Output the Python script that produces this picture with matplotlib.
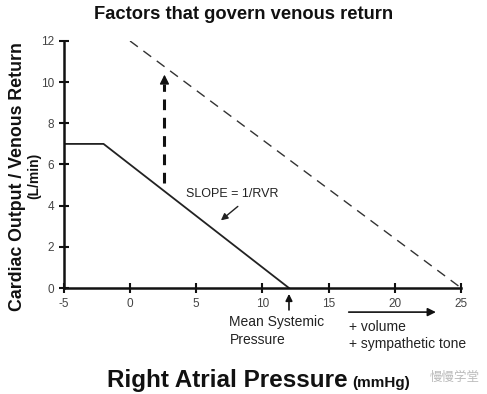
import matplotlib.pyplot as plt

plt.rcParams['font.family'] = ['Liberation Sans', 'Noto Sans CJK SC', 'DejaVu Sans']
plt.rcParams['axes.unicode_minus'] = False

# venous return curves (RAP in mmHg, flow in L/min)
vr_x = [-5, -2, 12]
vr_y = [7, 7, 0]
shift_x = [0, 25]
shift_y = [12, 0]

xticks = [-5, 0, 5, 10, 15, 20, 25]
yticks = [0, 2, 4, 6, 8, 10, 12]

fig = plt.figure(figsize=(4.87, 3.94), dpi=100)
ax = fig.add_axes([0.131, 0.269, 0.816, 0.627])

ax.plot(vr_x, vr_y, color='#222222', lw=1.3)
ax.plot(shift_x, shift_y, color='#333333', lw=1.0, ls=(0, (7, 5)))

# thick dashed arrow showing the upward shift
ax.plot([2.6, 2.6], [5.1, 9.9], color='#111111', lw=2.2, ls=(0, (3.5, 2.5)))
ax.annotate('', xy=(2.6, 10.5), xytext=(2.6, 9.8),
            arrowprops=dict(arrowstyle='-|>', color='#111111', lw=1, mutation_scale=14))

ax.text(4.2, 4.55, 'SLOPE = 1/RVR', fontsize=9, color='#222222', va='center')
ax.annotate('', xy=(6.7, 3.2), xytext=(8.3, 4.05),
            arrowprops=dict(arrowstyle='-|>', color='#222222', lw=1, mutation_scale=10))

# mean systemic pressure marker below the axis
ax.annotate('', xy=(12, -0.15), xytext=(12, -1.2), annotation_clip=False,
            arrowprops=dict(arrowstyle='-|>', color='#111111', lw=1.2, mutation_scale=10))
ax.text(7.5, -1.3, 'Mean Systemic\nPressure', fontsize=10, color='#222222',
        va='top', ha='left', linespacing=1.35, clip_on=False)

ax.annotate('', xy=(23.3, -1.17), xytext=(16.3, -1.17), annotation_clip=False,
            arrowprops=dict(arrowstyle='-|>', color='#111111', lw=1.2, mutation_scale=12))
ax.text(16.5, -1.55, '+ volume\n+ sympathetic tone', fontsize=10, color='#222222',
        va='top', ha='left', linespacing=1.3, clip_on=False)

ax.set_xlim(-5, 25)
ax.set_ylim(0, 12)
ax.set_xticks(xticks)
ax.set_yticks(yticks)
ax.tick_params(direction='inout', length=7, width=1.5, labelsize=8.5, colors='#111111',
               labelcolor='#444444')
ax.tick_params(axis='x', pad=4)
for s in ['top', 'right']:
    ax.spines[s].set_visible(False)
for s in ['left', 'bottom']:
    ax.spines[s].set_linewidth(1.8)
    ax.spines[s].set_color('#111111')

fig.text(0.5, 0.964, 'Factors that govern venous return', ha='center', va='center',
         fontsize=13.2, fontweight='bold', color='#111111')

# axis labels with smaller units
fig.text(0.036, 0.553, 'Cardiac Output / Venous Return', rotation=90, ha='center', va='center',
         fontsize=12.8, fontweight='bold', color='#111111')
fig.text(0.071, 0.553, '(L/min)', rotation=90, ha='center', va='center',
         fontsize=10, fontweight='bold', color='#111111')
fig.text(0.22, 0.018, 'Right Atrial Pressure', ha='left', va='baseline',
         fontsize=17.5, fontweight='bold', color='#111111')
fig.text(0.723, 0.018, '(mmHg)', ha='left', va='baseline',
         fontsize=11, fontweight='bold', color='#111111')
fig.text(0.985, 0.04, '慢慢学堂', ha='right', va='center', fontsize=9, color='#bbbbbb')

fig.savefig('out.png', dpi=100)
